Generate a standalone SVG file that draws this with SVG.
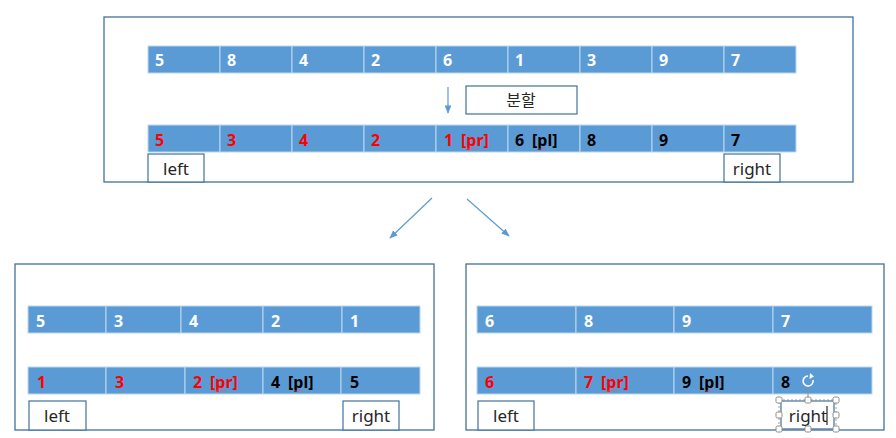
<svg xmlns="http://www.w3.org/2000/svg" width="896" height="438" viewBox="0 0 896 438">
<defs>
<style>
.panel{fill:#fff;stroke:#41719C;stroke-width:1.3}
.cell{fill:#5B9BD5;stroke:#BDD7EE;stroke-width:1}
.n{font-family:"Noto Sans","Open Sans",sans-serif;font-weight:bold;font-size:16px}
.w{fill:#fff}.r{fill:#FF0000}.k{fill:#000}
.lbl{fill:#fff;stroke:#41719C;stroke-width:1.2}
.lt{font-family:"Noto Sans","Open Sans",sans-serif;font-size:17px;fill:#262626}
.conn{stroke:#5B9BD5;stroke-width:1.2;fill:none}
.wave{fill:none;stroke:#E06060;stroke-width:0.8}
.h{fill:#fff;stroke:#8C8C8C;stroke-width:1}
</style>
<marker id="ah" viewBox="0 0 10 10" refX="9" refY="5" markerWidth="7" markerHeight="7" orient="auto-start-reverse">
<path d="M0,1 L10,5 L0,9 z" fill="#5B9BD5"/>
</marker>
</defs>

<g id="top-panel">
<rect class="panel" x="104" y="17" width="749" height="165"/>
<g id="top-row1">
<rect class="cell" x="148" y="46" width="72" height="27"/><rect class="cell" x="220" y="46" width="72" height="27"/><rect class="cell" x="292" y="46" width="72" height="27"/><rect class="cell" x="364" y="46" width="72" height="27"/><rect class="cell" x="436" y="46" width="72" height="27"/><rect class="cell" x="508" y="46" width="72" height="27"/><rect class="cell" x="580" y="46" width="72" height="27"/><rect class="cell" x="652" y="46" width="72" height="27"/><rect class="cell" x="724" y="46" width="72" height="27"/>
<text class="n w" x="155" y="66">5</text><text class="n w" x="227" y="66">8</text><text class="n w" x="299" y="66">4</text><text class="n w" x="371" y="66">2</text><text class="n w" x="443" y="66">6</text><text class="n w" x="515" y="66">1</text><text class="n w" x="587" y="66">3</text><text class="n w" x="659" y="66">9</text><text class="n w" x="731" y="66">7</text>
</g>
<g id="split-label">
<rect class="lbl" x="466" y="86" width="111" height="28"/>
<text x="521" y="106" text-anchor="middle" font-family="'Noto Sans CJK KR',sans-serif" font-size="16" fill="#262626">분할</text>
</g>
<g id="top-row2">
<rect class="cell" x="148" y="125" width="72" height="27"/><rect class="cell" x="220" y="125" width="72" height="27"/><rect class="cell" x="292" y="125" width="72" height="27"/><rect class="cell" x="364" y="125" width="72" height="27"/><rect class="cell" x="436" y="125" width="72" height="27"/><rect class="cell" x="508" y="125" width="72" height="27"/><rect class="cell" x="580" y="125" width="72" height="27"/><rect class="cell" x="652" y="125" width="72" height="27"/><rect class="cell" x="724" y="125" width="72" height="27"/>
<text class="n r" x="155" y="146">5</text><text class="n r" x="227" y="146">3</text><text class="n r" x="299" y="146">4</text><text class="n r" x="371" y="146">2</text>
<text class="n r" x="444" y="146">1 <tspan x="461">[pr]</tspan></text>
<text class="n k" x="515" y="146">6 <tspan x="532">[pl]</tspan></text>
<text class="n k" x="587" y="146">8</text><text class="n k" x="659" y="146">9</text><text class="n k" x="731" y="146">7</text>
<path class="wave" d="M466,149.5 l1.5,-1.2 l1.5,1.2 l1.5,-1.2 l1.5,1.2 l1.5,-1.2 l1.5,1.2 l1.5,-1.2 l1.5,1.2"/>
<path class="wave" d="M537,149.5 l1.5,-1.2 l1.5,1.2 l1.5,-1.2 l1.5,1.2 l1.5,-1.2 l1.5,1.2"/>
</g>
<g id="top-left"><rect class="lbl" x="148" y="154" width="56" height="28"/><text class="lt" x="176" y="175" text-anchor="middle">left</text></g>
<g id="top-right"><rect class="lbl" x="724" y="154" width="56" height="28"/><text class="lt" x="752" y="175" text-anchor="middle">right</text></g>
</g>

<g id="left-panel">
<rect class="panel" x="15" y="264" width="419" height="166"/>
<rect class="cell" x="28" y="306" width="78" height="27"/><rect class="cell" x="106" y="306" width="75" height="27"/><rect class="cell" x="181" y="306" width="82" height="27"/><rect class="cell" x="263" y="306" width="79" height="27"/><rect class="cell" x="342" y="306" width="78" height="27"/>
<text class="n w" x="36" y="327">5</text><text class="n w" x="114" y="327">3</text><text class="n w" x="189" y="327">4</text><text class="n w" x="271" y="327">2</text><text class="n w" x="350" y="327">1</text>
<rect class="cell" x="28" y="367" width="78" height="27"/><rect class="cell" x="106" y="367" width="79" height="27"/><rect class="cell" x="185" y="367" width="78" height="27"/><rect class="cell" x="263" y="367" width="78" height="27"/><rect class="cell" x="341" y="367" width="79" height="27"/>
<text class="n r" x="37" y="388">1</text><text class="n r" x="115" y="388">3</text>
<text class="n r" x="193" y="388">2 <tspan x="210">[pr]</tspan></text>
<text class="n k" x="271" y="388">4 <tspan x="288">[pl]</tspan></text>
<text class="n k" x="350" y="388">5</text>
<path class="wave" d="M214,391.5 l1.5,-1.2 l1.5,1.2 l1.5,-1.2 l1.5,1.2 l1.5,-1.2 l1.5,1.2 l1.5,-1.2 l1.5,1.2"/>
<path class="wave" d="M293,391.5 l1.5,-1.2 l1.5,1.2 l1.5,-1.2 l1.5,1.2 l1.5,-1.2 l1.5,1.2"/>
<g id="left-left"><rect class="lbl" x="29" y="401" width="57" height="29"/><text class="lt" x="57" y="422" text-anchor="middle">left</text></g>
<g id="left-right"><rect class="lbl" x="343" y="401" width="56" height="29"/><text class="lt" x="371" y="422" text-anchor="middle">right</text></g>
</g>

<g id="right-panel">
<rect class="panel" x="466" y="264" width="418" height="166"/>
<rect class="cell" x="477" y="306" width="99" height="27"/><rect class="cell" x="576" y="306" width="98" height="27"/><rect class="cell" x="674" y="306" width="99" height="27"/><rect class="cell" x="773" y="306" width="99" height="27"/>
<text class="n w" x="485" y="327">6</text><text class="n w" x="584" y="327">8</text><text class="n w" x="682" y="327">9</text><text class="n w" x="781" y="327">7</text>
<rect class="cell" x="477" y="367" width="99" height="27"/><rect class="cell" x="576" y="367" width="98" height="27"/><rect class="cell" x="674" y="367" width="99" height="27"/><rect class="cell" x="773" y="367" width="99" height="27"/>
<text class="n r" x="485" y="388">6</text>
<text class="n r" x="584" y="388">7 <tspan x="601">[pr]</tspan></text>
<text class="n k" x="682" y="388">9 <tspan x="699">[pl]</tspan></text>
<text class="n k" x="781" y="388">8</text>
<path class="wave" d="M605,391.5 l1.5,-1.2 l1.5,1.2 l1.5,-1.2 l1.5,1.2 l1.5,-1.2 l1.5,1.2 l1.5,-1.2 l1.5,1.2"/>
<path class="wave" d="M704,391.5 l1.5,-1.2 l1.5,1.2 l1.5,-1.2 l1.5,1.2 l1.5,-1.2 l1.5,1.2"/>
<g id="right-left"><rect class="lbl" x="478" y="401" width="56" height="29"/><text class="lt" x="506" y="422" text-anchor="middle">left</text></g>
<g id="right-right">
<rect class="lbl" x="781" y="401" width="53" height="28"/>
<rect x="779" y="400" width="57" height="29" fill="none" stroke="#8C8C8C" stroke-width="0.8" stroke-dasharray="2,2"/>
<text class="lt" x="808" y="422" text-anchor="middle">right</text>
<line x1="827" y1="406" x2="827" y2="425" stroke="#000" stroke-width="1"/>
<line x1="808" y1="386" x2="808" y2="400" stroke="#8C8C8C" stroke-width="1"/>
<path d="M813,380 A5,5 0 1 1 808,376" fill="none" stroke="#fff" stroke-width="1.6"/>
<path d="M810,373 L814,376.5 L809.5,379 z" fill="#fff"/>
<rect class="h" x="776" y="397" width="6" height="6" rx="1.5"/><rect class="h" x="805" y="397" width="6" height="6" rx="1.5"/><rect class="h" x="833" y="397" width="6" height="6" rx="1.5"/>
<rect class="h" x="776" y="412" width="6" height="6" rx="1.5"/><rect class="h" x="833" y="412" width="6" height="6" rx="1.5"/>
<rect class="h" x="776" y="426" width="6" height="6" rx="1.5"/><rect class="h" x="805" y="426" width="6" height="6" rx="1.5"/><rect class="h" x="833" y="426" width="6" height="6" rx="1.5"/>
</g>
</g>

<g id="connectors">
<line class="conn" x1="448" y1="87" x2="448" y2="113" marker-end="url(#ah)"/>
<line class="conn" x1="432" y1="198" x2="390" y2="238" marker-end="url(#ah)"/>
<line class="conn" x1="467" y1="199" x2="509" y2="236" marker-end="url(#ah)"/>
</g>
</svg>
